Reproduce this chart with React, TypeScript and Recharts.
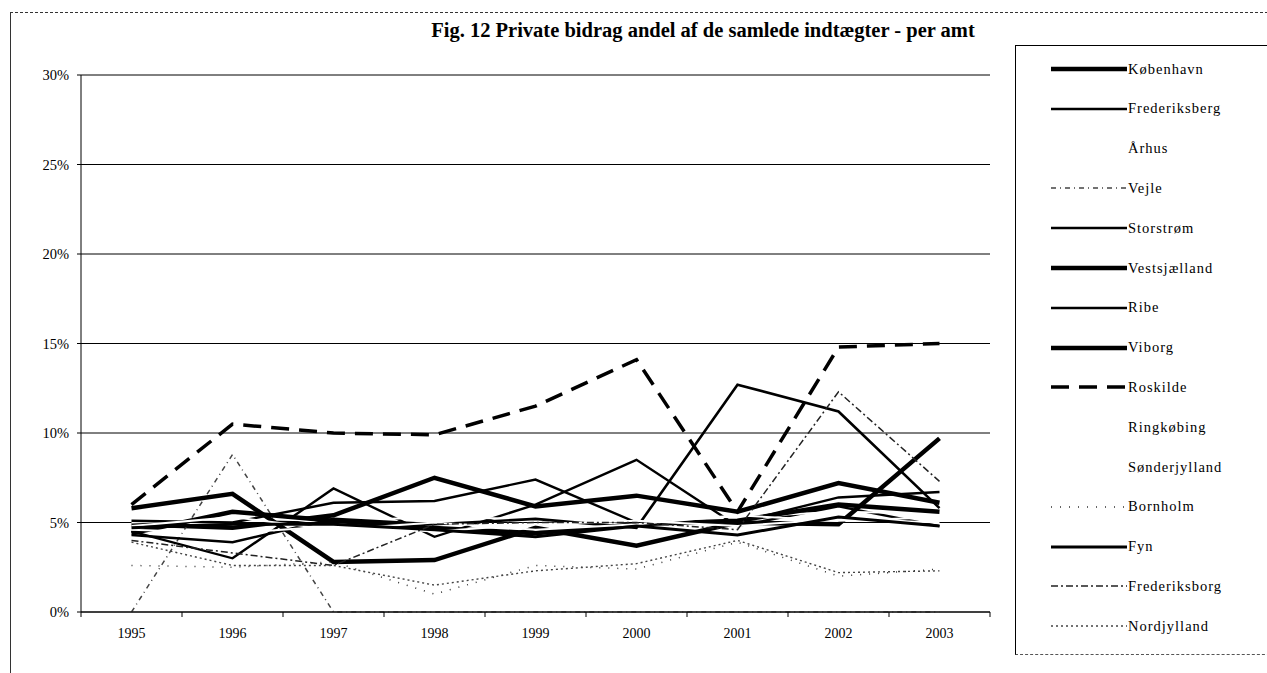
import React from 'react'
import { CartesianGrid, ComposedChart, Line, XAxis, YAxis } from 'recharts'

const years = ['1995', '1996', '1997', '1998', '1999', '2000', '2001', '2002', '2003']

// andel i procent
const kobenhavn = [4.9, 4.7, 5.4, 7.5, 5.9, 6.5, 5.6, 7.2, 6.1]
const frederiksberg = [4.5, 3.0, 6.9, 4.2, 6.0, 8.5, 4.8, 5.9, 4.8]
const aarhus = [5.0, 5.2, 5.1, 5.3, 5.2, 5.4, 5.3, 5.6, 5.5]
const vejle = [0, 8.8, 0, 0, 0, 0, 0, 0, 0]
const storstrom = [5.1, 5.0, 6.1, 6.2, 7.4, 5.0, 5.0, 6.4, 6.7]
const vestsjaelland = [5.8, 6.6, 2.8, 2.9, 4.7, 3.7, 5.0, 4.9, 9.7]
const ribe = [4.3, 3.9, 5.2, 4.9, 5.2, 4.7, 12.7, 11.2, 5.8]
const viborg = [4.4, 5.6, 5.1, 4.7, 4.4, 4.9, 5.1, 6.0, 5.6]
const roskilde = [6.0, 10.5, 10.0, 9.9, 11.5, 14.1, 5.6, 14.8, 15.0]
const ringkobing = [4.6, 4.4, 4.8, 4.5, 4.9, 5.1, 4.8, 5.2, 5.0]
const sonderjylland = [4.8, 5.3, 4.6, 5.0, 4.6, 4.9, 5.4, 5.1, 5.3]
const bornholm = [2.6, 2.5, 2.8, 1.0, 2.6, 2.4, 3.9, 2.0, 2.4]
const fyn = [4.7, 4.9, 4.9, 4.6, 4.2, 4.8, 4.3, 5.3, 4.8]
const frederiksborg = [4.0, 3.3, 2.6, 4.9, 5.0, 5.0, 4.6, 12.3, 7.3]
const nordjylland = [3.9, 2.6, 2.6, 1.5, 2.3, 2.7, 4.0, 2.2, 2.3]

const yTicks = [0, 5, 10, 15, 20, 25, 30]

const series: [string, number[]][] = [
  ['København', kobenhavn],
  ['Frederiksberg', frederiksberg],
  ['Århus', aarhus],
  ['Vejle', vejle],
  ['Storstrøm', storstrom],
  ['Vestsjælland', vestsjaelland],
  ['Ribe', ribe],
  ['Viborg', viborg],
  ['Roskilde', roskilde],
  ['Ringkøbing', ringkobing],
  ['Sønderjylland', sonderjylland],
  ['Bornholm', bornholm],
  ['Fyn', fyn],
  ['Frederiksborg', frederiksborg],
  ['Nordjylland', nordjylland],
]

const styles: Record<string, { w: number; color: string; dash?: string }> = {
  København: { w: 4.5, color: '#000' },
  Frederiksberg: { w: 2.4, color: '#000' },
  Århus: { w: 2, color: '#fff' },
  Vejle: { w: 1.5, color: '#444', dash: '5 4 1 4' },
  Storstrøm: { w: 2.4, color: '#000' },
  Vestsjælland: { w: 4.5, color: '#000' },
  Ribe: { w: 2.6, color: '#000' },
  Viborg: { w: 4.5, color: '#000' },
  Roskilde: { w: 3.5, color: '#000', dash: '18 10' },
  Ringkøbing: { w: 2, color: '#fff' },
  Sønderjylland: { w: 2, color: '#fff' },
  Bornholm: { w: 1.5, color: '#333', dash: '1 8' },
  Fyn: { w: 3, color: '#000' },
  Frederiksborg: { w: 1.5, color: '#222', dash: '7 3 2 3' },
  Nordjylland: { w: 1.4, color: '#444', dash: '2 3' },
}

const data = years.map((year, i) => {
  const row: Record<string, string | number> = { year }
  series.forEach(([name, values]) => {
    row[name] = values[i]
  })
  return row
})

const FONT = '"Liberation Serif", "DejaVu Serif", serif'
const HALF_STEP = 909 / 9 / 2

function YearTick(props: any) {
  const { x, y, payload, index } = props
  const axisY = y - 15
  return (
    <g>
      <line x1={x - HALF_STEP} x2={x - HALF_STEP} y1={axisY} y2={axisY + 5} stroke="#000" />
      {index === years.length - 1 && (
        <line x1={x + HALF_STEP} x2={x + HALF_STEP} y1={axisY} y2={axisY + 5} stroke="#000" />
      )}
      <text x={x} y={y} dy={11} textAnchor="middle" fontSize={14} fontFamily={FONT} fill="#000">
        {payload.value}
      </text>
    </g>
  )
}

function LegendBox() {
  return (
    <div
      style={{
        position: 'absolute',
        left: 1015,
        top: 45,
        width: 260,
        height: 610,
        borderLeft: '1px solid #000',
        borderTop: '1px solid #000',
        borderBottom: '1px dashed #555',
        boxSizing: 'border-box',
        fontFamily: FONT,
      }}
    >
      {series.map(([name], i) => {
        const s = styles[name]
        return (
          <div
            key={name}
            style={{
              position: 'absolute',
              left: 0,
              top: 13 + i * 39.8,
              height: 20,
              display: 'flex',
              alignItems: 'center',
            }}
          >
            <svg width={112} height={20}>
              <line
                x1={35}
                x2={111}
                y1={10}
                y2={10}
                stroke={s.color}
                strokeWidth={s.w}
                strokeDasharray={s.dash}
              />
            </svg>
            <span style={{ fontSize: 14.5, letterSpacing: 1, color: '#000' }}>{name}</span>
          </div>
        )
      })}
    </div>
  )
}

export default function App() {
  return (
    <div
      style={{
        position: 'absolute',
        left: 0,
        top: 0,
        width: 1267,
        height: 673,
        background: '#fff',
        overflow: 'hidden',
      }}
    >
      <div
        style={{
          position: 'absolute',
          left: 10,
          top: 12,
          width: 1257,
          height: 661,
          borderLeft: '1px solid #333',
          borderTop: '1px dashed #333',
        }}
      />
      <div
        style={{
          position: 'absolute',
          left: 353,
          top: 18,
          width: 700,
          textAlign: 'center',
          fontFamily: FONT,
          fontWeight: 'bold',
          fontSize: 20.5,
          lineHeight: '24px',
          color: '#000',
        }}
      >
        Fig. 12 Private bidrag andel af de samlede indtægter - per amt
      </div>
      <ComposedChart
        width={1267}
        height={673}
        data={data}
        margin={{ top: 75, right: 277, left: 0, bottom: 0 }}
        style={{ position: 'absolute', left: 0, top: 0 }}
      >
        <CartesianGrid vertical={false} stroke="#000" strokeWidth={1} />
        <XAxis
          dataKey="year"
          padding={{ left: HALF_STEP, right: HALF_STEP }}
          axisLine={{ stroke: '#000' }}
          tickLine={false}
          tickSize={5}
          tickMargin={10}
          tick={<YearTick />}
          interval={0}
          height={61}
        />
        <YAxis
          domain={[0, 30]}
          ticks={yTicks}
          width={81}
          tickFormatter={(v) => `${v}%`}
          tickSize={4}
          tickMargin={8}
          axisLine={{ stroke: '#000' }}
          tickLine={{ stroke: '#000' }}
          tick={{ fontSize: 14.5, fontFamily: FONT, fill: '#000' }}
        />
        <YAxis
          yAxisId="frame"
          orientation="right"
          width={0}
          tick={false}
          tickLine={false}
          axisLine={{ stroke: '#000', strokeDasharray: '6 3' }}
        />
        {series.map(([name]) => {
          const s = styles[name]
          return (
            <Line
              key={name}
              type="linear"
              dataKey={name}
              stroke={s.color}
              strokeWidth={s.w}
              strokeDasharray={s.dash}
              dot={false}
              activeDot={false}
              isAnimationActive={false}
            />
          )
        })}
      </ComposedChart>
      <LegendBox />
    </div>
  )
}
